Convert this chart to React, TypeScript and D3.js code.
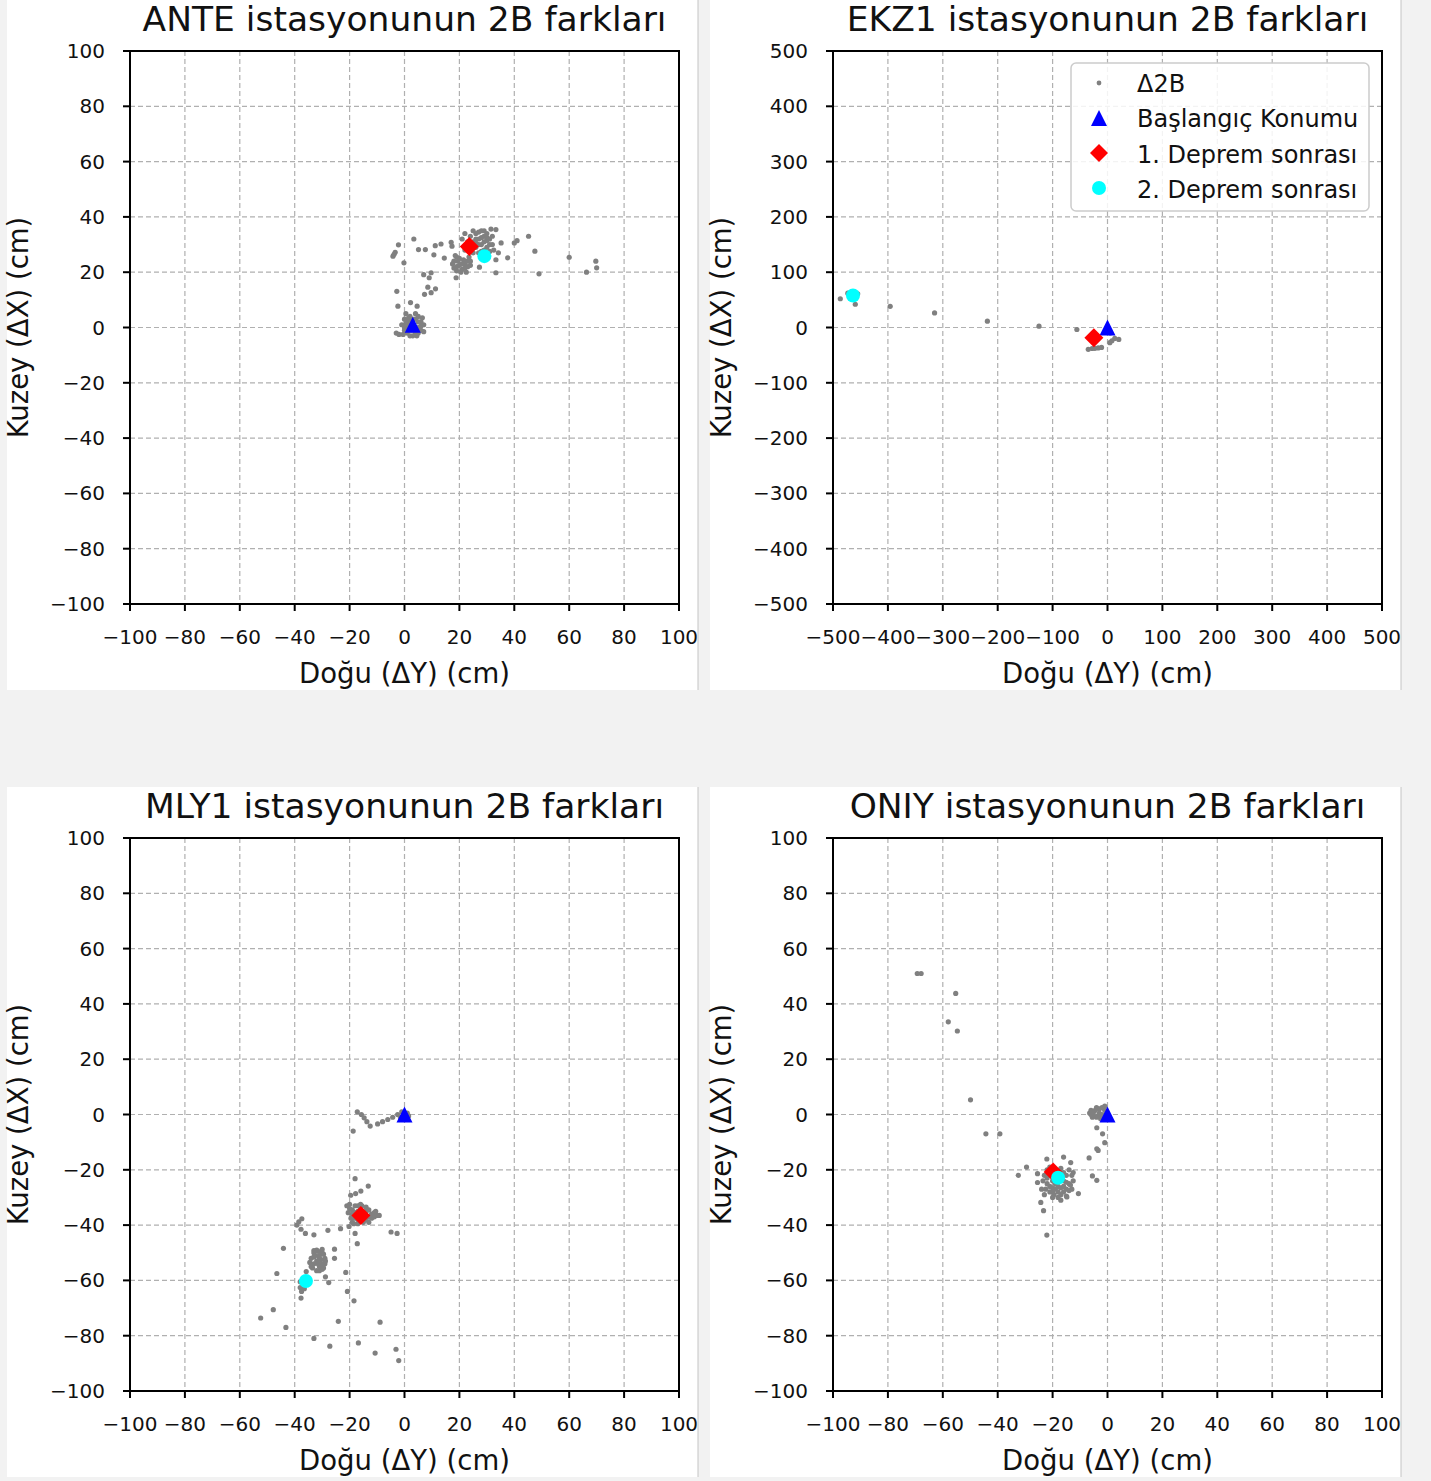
import React from "react";
import * as d3 from "d3";

type Pt = [number, number];

// ---------- tick values ----------
const TICKS_100 = [-100, -80, -60, -40, -20, 0, 20, 40, 60, 80, 100];
const TICKS_500 = [-500, -400, -300, -200, -100, 0, 100, 200, 300, 400, 500];

// ---------- ANTE (east, north) cm ----------
const anteCloud: Pt[] = [
  [0, 0], [1, 2], [2, -1], [3, 3], [4, 0], [5, 2], [6, -1], [2, 1], [4, -2], [1, -2], [6, 2], [5, 4], [3, -3], [7, 1], [0, 3], [-1, 1], [2, 4], [4, 3], [-3, -2], [-2, -2.5],
  [0, -1], [1, 0], [1.5, 3.5], [3, 1], [3, -1], [5, 0], [5, -2], [6, 0.5], [7, -1.5], [2, -3], [0.5, 1.5], [4, 5], [6.5, 3.5], [2.5, 2.5], [-0.5, -2.5], [4.5, -3],
  [-2.8, 13.1], [-2.4, 7.7], [2.2, 9], [4.6, 7.7], [0.5, 5],
  [7.3, 12], [9.7, 12.6], [11.3, 14], [8.5, 14.6], [7, 19.1], [9.7, 19.8], [9, 18],
  [-4.2, 25.8], [-3.4, 27.2], [-2.2, 29.9], [-0.2, 23.4], [3.4, 32], [5.1, 28.2], [7.6, 28.2], [11.2, 29.6], [13.3, 30.2], [10.7, 26.3], [14.5, 25.1], [17, 30.8], [17.3, 29.4], [-3.8, 26.5],
  [18, 24], [19, 22], [20, 25], [21, 21], [22, 23], [19, 20.5], [23, 22], [24, 24], [20, 22.5], [21.5, 24.5], [18.5, 26], [22.5, 20], [18.8, 18], [17.5, 23], [23.5, 25.5],
  [18, 21.5], [19.5, 24], [20.5, 20], [21, 23], [22, 21.5], [23, 24], [24, 22.5], [19, 25.5],
  [21, 32], [22, 34], [24, 33], [25, 31], [26, 34], [27, 32], [28, 35], [29, 33], [30, 34], [31, 32], [26, 29], [28, 30], [30, 29], [32, 30], [27, 27], [25, 27], [31.5, 35.6], [33.3, 35.4], [29, 28], [24, 29], [22, 28],
  [23, 31], [25, 35], [26, 32], [27, 30], [28, 32.5], [29, 31], [30, 31.5], [31, 30], [32, 33], [27, 34.5], [29, 35], [31, 27.5], [28, 27.5], [26, 30.5], [30, 32.5], [32.5, 28],
  [35.2, 30.6], [34.2, 27], [33.3, 24.5], [33.3, 19.8], [37.6, 25.2], [40, 30.6], [41, 31.4], [45.2, 33], [47.5, 27.6], [49, 19.4], [60, 25.4], [66.3, 20], [69.7, 24], [70, 21.6], [27.3, 21.8],
];
const anteStart: Pt = [3, 1];
const anteEq1: Pt = [23.6, 29.3];
const anteEq2: Pt = [29.1, 25.8];

// ---------- EKZ1 ----------
const ekzCloud: Pt[] = [
  [-486.7, 52], [-473, 62], [-455, 61], [-459.4, 42], [-465, 55], [-395.8, 38.3], [-315, 26.3], [-218.8, 11.4], [-124.8, 2.4], [-55.8, -3.6],
  [-35, -39.5], [-23, -37.7], [-10.9, -36], [4.2, -27.5], [13.3, -19.8], [20.6, -21.6], [-28, -38], [-17, -37], [8, -24], [0, 0], [5, -10], [-30, -15], [-20, -22],
];
const ekzStart: Pt = [0, 0];
const ekzEq1: Pt = [-24.8, -18.6];
const ekzEq2: Pt = [-463.6, 58];

// ---------- MLY1 ----------
const mlyCloud: Pt[] = [
  [-17.2, 1], [-15.7, 0], [-14.7, -1.2], [-13.7, -2.6], [-12.5, -4.2], [-9.8, -3.4], [-8, -2.6], [-6.1, -1.8], [-4.3, -1], [-2.5, 0], [-18.7, -6], [-1, 1], [1, 0.5], [-1.5, -1], [1.5, -0.5],
  [-18, -23.2], [-13.2, -25.9], [-15.9, -27.7], [-17.8, -28.6], [-19.6, -29.2],
  [-20, -34], [-19, -36], [-18, -33], [-17, -38], [-16, -34], [-15, -39], [-14, -35], [-13, -37], [-12, -36], [-11, -35.5], [-10, -36.5], [-9.2, -36.5], [-18, -37.5], [-16, -32.5], [-14, -33.5], [-19, -39], [-21, -33], [-17, -35],
  [-20, -32.5], [-19, -34.5], [-18, -35.5], [-17, -33], [-16, -37], [-15, -35.5], [-14, -38], [-13, -34.5], [-12, -37.5], [-19.5, -37.5], [-17, -39.5], [-15.5, -33], [-13, -39], [-11, -37], [-10.5, -35], [-20.5, -35.5], [-18.5, -39.5],
  [-4.9, -42.5], [-2.7, -43], [-18, -43], [-17.2, -46.7],
  [-20.2, -40.5], [-23.3, -41.3], [-27.9, -41.9], [-33, -43.5], [-37.4, -37.7], [-39.2, -40], [-37.7, -41.5], [-36.1, -43], [-38.5, -38.8],
  [-44.1, -48.4], [-46.5, -57.5],
  [-34, -52], [-33, -50], [-32, -49], [-31, -51], [-30, -50], [-29, -52], [-33, -54], [-31, -55], [-30, -54], [-32, -53], [-34, -55], [-30, -56], [-32, -56.5], [-29, -54], [-31, -52], [-33, -51.5],
  [-34.5, -53.5], [-32.5, -51], [-31.5, -49.5], [-30.5, -52.5], [-29.5, -50.5], [-28.8, -53], [-33.5, -55.5], [-31, -56.5], [-29.5, -55.5], [-31.5, -54], [-30, -48.8], [-33, -49.2],
  [-25.5, -48.7], [-25.5, -52], [-35.8, -56.8],
  [-38, -62.6], [-37.7, -66.4], [-37, -61], [-36.5, -63], [-38, -60.5], [-37.5, -64],
  [-28.8, -58.7], [-27.6, -60.8], [-21.4, -57.1], [-20.8, -64], [-18.4, -67.4],
  [-52.4, -73.6], [-47.8, -70.6], [-43.2, -77], [-33, -81], [-27.2, -83.8], [-24.1, -74.8], [-16.8, -82.6], [-10.7, -86.3], [-8.9, -75.1], [-3.1, -84.9], [-2.1, -89],
];
const mlyStart: Pt = [0, 0];
const mlyEq1: Pt = [-15.9, -36.5];
const mlyEq2: Pt = [-35.9, -60.2];

// ---------- ONIY ----------
const oniyCloud: Pt[] = [
  [-69.3, 51], [-67.9, 51], [-55.3, 43.8], [-58, 33.5], [-54.7, 30.2], [-49.9, 5.3], [-44.3, -7], [-39.2, -7],
  [-6, 0], [-5, 1], [-4, -1], [-3, 2], [-2, 0], [-1, 1.5], [-4, 2.5], [-5.5, -1], [-2.5, -1.5], [-6.5, 0.5], [-3, 0.5], [-1, 3],
  [-5, -0.5], [-4.5, 1.5], [-3.5, -0.5], [-2, 2.5], [-1.5, -0.5], [-6, 1.5], [-0.5, 0],
  [-3.9, -4.8], [-1.8, -7], [-1, -10.2], [-3.9, -12.4], [-3.4, -13], [-6.7, -15.7], [-5.5, -22.2], [-3.9, -23.8],
  [-23, -22], [-22, -25], [-21, -28], [-20, -24], [-19, -27], [-18, -26], [-17, -29], [-16, -24], [-15, -27], [-14, -25], [-13, -22], [-12.5, -24], [-14, -20], [-16, -21], [-22, -20], [-20, -30], [-18, -30], [-24, -27], [-23, -29], [-15, -22], [-17, -19.5], [-21, -19], [-13, -27], [-19, -23], [-23.5, -24], [-16, -28], [-20, -26.5], [-17.5, -23.5],
  [-22, -23], [-21, -26], [-20, -28], [-19, -25], [-18, -28], [-17, -26.5], [-16, -26], [-15, -24.5], [-14, -27.5], [-13.5, -25.5], [-22.5, -27], [-21.5, -22], [-19.5, -29], [-17, -31], [-15, -29.5], [-12.5, -21], [-18.5, -20.5],
  [-29.5, -19], [-32.5, -22], [-22.1, -16.1], [-16, -15.4], [-13.4, -17.4], [-10.6, -28.6], [-14.8, -29.8], [-24.3, -31.8], [-23.3, -34.8], [-25.5, -21.4], [-25.5, -24.6], [-22.1, -43.6],
];
const oniyStart: Pt = [0, 0];
const oniyEq1: Pt = [-19.8, -20.8];
const oniyEq2: Pt = [-18, -22.9];

const LEGEND_LABELS = ["Δ2B", "Başlangıç Konumu", "1. Deprem sonrası", "2. Deprem sonrası"];
const X_LABEL = "Doğu (ΔY) (cm)";
const Y_LABEL = "Kuzey (ΔX) (cm)";

const FONT = "'DejaVu Sans', sans-serif";
const GRAY = "#808080";

const stations = [
  { name: "ANTE", cloud: anteCloud, start: anteStart, eq1: anteEq1, eq2: anteEq2, lim: 100, ticks: TICKS_100, legend: false, ox: 0, oy: 0 },
  { name: "EKZ1", cloud: ekzCloud, start: ekzStart, eq1: ekzEq1, eq2: ekzEq2, lim: 500, ticks: TICKS_500, legend: true, ox: 703, oy: 0 },
  { name: "MLY1", cloud: mlyCloud, start: mlyStart, eq1: mlyEq1, eq2: mlyEq2, lim: 100, ticks: TICKS_100, legend: false, ox: 0, oy: 787 },
  { name: "ONIY", cloud: oniyCloud, start: oniyStart, eq1: oniyEq1, eq2: oniyEq2, lim: 100, ticks: TICKS_100, legend: false, ox: 703, oy: 787 },
];

const L = 130, R = 679, T = 51, B = 604;

const fmt = (v: number) => (v < 0 ? "\u2212" + Math.abs(v) : String(v));

function triPath(cx: number, cy: number, w = 16, h = 16) {
  return `M${cx},${cy - h / 2}L${cx + w / 2},${cy + h / 2}L${cx - w / 2},${cy + h / 2}Z`;
}
function diaPath(cx: number, cy: number, r = 9.5) {
  return `M${cx},${cy - r}L${cx + r},${cy}L${cx},${cy + r}L${cx - r},${cy}Z`;
}

function Panel({ s }: { s: (typeof stations)[number] }) {
  const x = d3.scaleLinear().domain([-s.lim, s.lim]).range([L, R]);
  const y = d3.scaleLinear().domain([-s.lim, s.lim]).range([B, T]);
  const cx = (L + R) / 2;
  const cy = (T + B) / 2;
  return (
    <g transform={`translate(${s.ox},${s.oy})`}>
      <rect x={7} y={0} width={691} height={690} fill="#ffffff" />
      <line x1={698} x2={698} y1={0} y2={690} stroke="#c4c4c4" strokeWidth={1} />
      <text x={cx} y={31} textAnchor="middle" fontSize={34.5} fontFamily={FONT} fill="#111">
        {s.name} istasyonunun 2B farkları
      </text>
      {/* grid */}
      {s.ticks.slice(1, -1).map((t) => (
        <line key={"gx" + t} x1={x(t)} x2={x(t)} y1={T} y2={B} stroke="#b0b0b0" strokeWidth={1.2} strokeDasharray="5,3" />
      ))}
      {s.ticks.slice(1, -1).map((t) => (
        <line key={"gy" + t} x1={L} x2={R} y1={y(t)} y2={y(t)} stroke="#b0b0b0" strokeWidth={1.2} strokeDasharray="5,3" />
      ))}
      {/* data */}
      {s.cloud.map((p, i) => (
        <circle key={i} cx={x(p[0])} cy={y(p[1])} r={2.6} fill={GRAY} />
      ))}
      <path d={triPath(x(s.start[0]), y(s.start[1]))} fill="#0000ff" />
      <path d={diaPath(x(s.eq1[0]), y(s.eq1[1]))} fill="#ff0000" />
      <circle cx={x(s.eq2[0])} cy={y(s.eq2[1])} r={7} fill="#00ffff" />
      {/* frame */}
      <rect x={L} y={T} width={R - L} height={B - T} fill="none" stroke="#000" strokeWidth={2} />
      {/* ticks */}
      {s.ticks.map((t) => (
        <g key={"tx" + t}>
          <line x1={x(t)} x2={x(t)} y1={B} y2={B + 7} stroke="#000" strokeWidth={2} />
          <text x={x(t)} y={644} textAnchor="middle" fontSize={20} fontFamily={FONT} fill="#111">
            {fmt(t)}
          </text>
        </g>
      ))}
      {s.ticks.map((t) => (
        <g key={"ty" + t}>
          <line x1={L - 7} x2={L} y1={y(t)} y2={y(t)} stroke="#000" strokeWidth={2} />
          <text x={105} y={y(t) + 7} textAnchor="end" fontSize={20} fontFamily={FONT} fill="#111">
            {fmt(t)}
          </text>
        </g>
      ))}
      <text x={cx} y={683} textAnchor="middle" fontSize={27.5} fontFamily={FONT} fill="#111">
        {X_LABEL}
      </text>
      <text transform={`translate(28,${cy}) rotate(-90)`} textAnchor="middle" fontSize={27.5} fontFamily={FONT} fill="#111">
        {Y_LABEL}
      </text>
      {s.legend && (
        <g>
          <rect x={368} y={63} width={298} height={148} rx={5} fill="#ffffff" fillOpacity={0.85} stroke="#cccccc" strokeWidth={1.5} />
          <circle cx={396} cy={83} r={2.4} fill={GRAY} />
          <path d={triPath(396, 118)} fill="#0000ff" />
          <path d={diaPath(396, 153, 9)} fill="#ff0000" />
          <circle cx={396} cy={188} r={7} fill="#00ffff" />
          {LEGEND_LABELS.map((lab, i) => (
            <text key={lab} x={434} y={92 + i * 35.3} fontSize={24} fontFamily={FONT} fill="#111">
              {lab}
            </text>
          ))}
        </g>
      )}
    </g>
  );
}

export default function App() {
  return (
    <svg width={1431} height={1481} style={{ position: "absolute", left: 0, top: 0, display: "block" }}>
      <rect x={0} y={0} width={1431} height={1481} fill="#f2f2f2" />
      {stations.map((s) => (
        <Panel key={s.name} s={s} />
      ))}
    </svg>
  );
}
